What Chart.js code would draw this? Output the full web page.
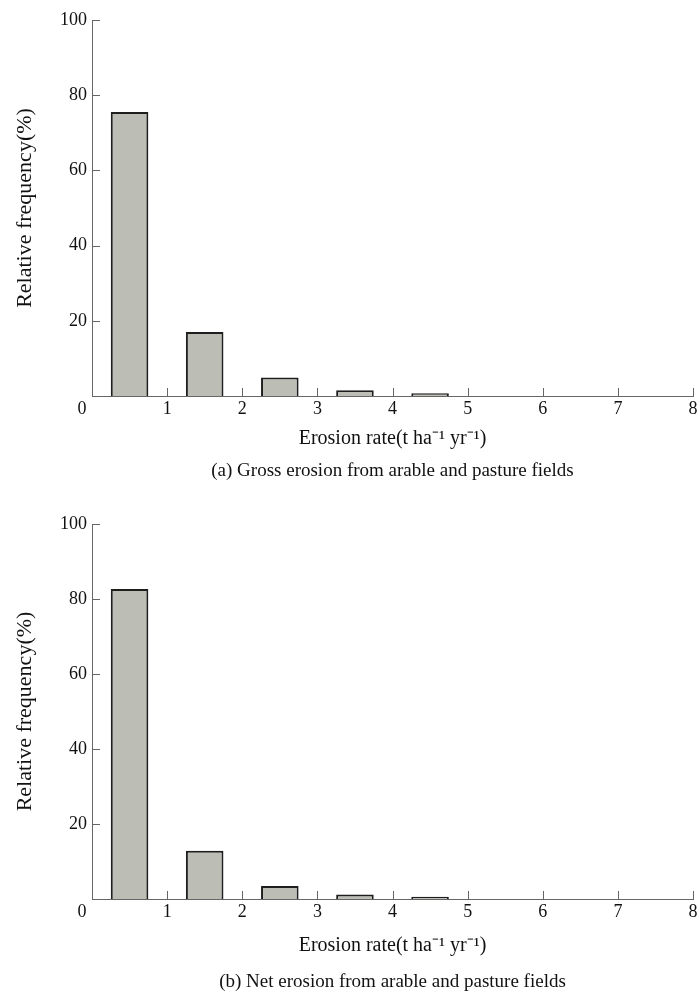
<!DOCTYPE html>
<html>
<head>
<meta charset="utf-8">
<script src="https://cdn.jsdelivr.net/npm/chart.js@4/dist/chart.umd.min.js"></script>
<style>
  body { margin: 0; background: #fff; }
  canvas { position: absolute; left: 0; }
</style>
</head>
<body>
<canvas id="gross" width="700" height="496" style="top:0"></canvas>
<canvas id="net" width="700" height="497" style="top:496px"></canvas>
<script>
const binCenters = [0.5, 1.5, 2.5, 3.5, 4.5];
const grossFreq = [75.5, 17.0, 4.9, 1.5, 0.7];
const netFreq = [82.7, 12.9, 3.5, 1.2, 0.6];
const xTickValues = [0, 1, 2, 3, 4, 5, 6, 7, 8];
const yTickValues = [0, 20, 40, 60, 80, 100];

const serif = "'Liberation Serif', 'Times New Roman', serif";
const axisGray = "#666";
const ink = "#111";

// tick marks point into the plot; the shared "0" sits left of the origin
const innerTicks = {
  id: "innerTicks",
  afterDraw(chart) {
    const { ctx, scales: { x, y } } = chart;
    ctx.save();
    ctx.strokeStyle = axisGray;
    ctx.lineWidth = 1;
    ctx.beginPath();
    xTickValues.forEach(v => {
      if (v === 0) return;
      const px = Math.round(x.getPixelForValue(v)) + 0.5;
      ctx.moveTo(px, y.bottom);
      ctx.lineTo(px, y.bottom - 8);
    });
    yTickValues.forEach(v => {
      if (v === 0) return;
      const py = Math.round(y.getPixelForValue(v)) + 0.5;
      ctx.moveTo(x.left, py);
      ctx.lineTo(x.left + 8, py);
    });
    ctx.stroke();
    ctx.fillStyle = ink;
    ctx.font = "18px " + serif;
    ctx.textAlign = "center";
    ctx.textBaseline = "middle";
    ctx.fillText("0", x.left - 10, y.bottom + 13);
    ctx.restore();
  }
};

function makeChart(canvasId, values, caption, pad) {
  new Chart(document.getElementById(canvasId), {
    type: "bar",
    data: {
      datasets: [{
        data: binCenters.map((c, i) => ({ x: c, y: values[i] })),
        backgroundColor: "#bcbdb5",
        borderColor: "#1e1e1e",
        borderWidth: 2,
        barPercentage: 0.5,
        categoryPercentage: 1,
      }],
    },
    options: {
      responsive: false,
      animation: false,
      layout: { padding: { top: pad.top, right: 7, left: 0, bottom: 0 } },
      plugins: {
        legend: { display: false },
        tooltip: { enabled: false },
        title: {
          display: true,
          position: "bottom",
          fullSize: false,
          text: caption,
          color: ink,
          font: { family: serif, size: 19, weight: "normal", lineHeight: 1 },
          padding: { top: 0, bottom: pad.caption },
        },
      },
      scales: {
        x: {
          type: "linear",
          offset: false,
          min: 0,
          max: 8,
          afterBuildTicks: s => { s.ticks = xTickValues.map(v => ({ value: v })); },
          afterFit: s => { s.height = pad.xAxis; },
          grid: { display: false, drawTicks: false },
          border: { color: axisGray, width: 1 },
          ticks: {
            padding: 2,
            color: ink,
            font: { family: serif, size: 18 },
            maxRotation: 0,
            callback: v => (v === 0 ? "" : v),
          },
          title: {
            display: true,
            text: "Erosion rate(t ha\u207B\u00B9 yr\u207B\u00B9)",
            color: ink,
            font: { family: serif, size: 20 },
            padding: { top: 0, bottom: pad.xTitle },
          },
        },
        y: {
          min: 0,
          max: 100,
          afterBuildTicks: s => { s.ticks = yTickValues.map(v => ({ value: v })); },
          afterFit: s => { s.width = 92; },
          grid: { display: false, drawTicks: false },
          border: { color: axisGray, width: 1 },
          ticks: {
            padding: 5,
            color: ink,
            font: { family: serif, size: 18 },
            callback: v => (v === 0 ? "" : v),
          },
          title: {
            display: true,
            text: "Relative frequency(%)",
            color: ink,
            font: { family: serif, size: 22 },
            padding: { top: 12, bottom: 0 },
          },
        },
      },
    },
    plugins: [innerTicks],
  });
}

makeChart("gross", grossFreq, "(a) Gross erosion from arable and pasture fields",
  { top: 20, xAxis: 66, xTitle: 11, caption: 15 });
makeChart("net", netFreq, "(b) Net erosion from arable and pasture fields",
  { top: 28, xAxis: 74, xTitle: 15, caption: 1 });
</script>
</body>
</html>
